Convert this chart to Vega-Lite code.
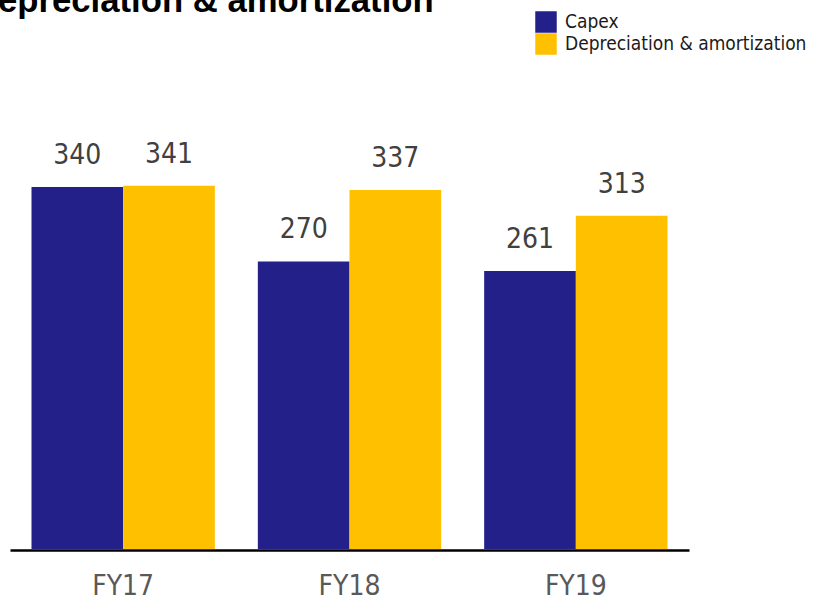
{
  "$schema": "https://vega.github.io/schema/vega-lite/v6.json",
  "width": 679,
  "height": 426,
  "autosize": {"type": "none"},
  "padding": {"left": 10, "top": 123, "right": 130, "bottom": 49},
  "background": "white",
  "title": {
    "text": "Depreciation & amortization",
    "anchor": "start",
    "orient": "top",
    "frame": "group",
    "font": "Liberation Sans",
    "fontSize": 34.7,
    "fontWeight": "bold",
    "color": "#000000",
    "baseline": "alphabetic",
    "offset": 0,
    "dx": -37,
    "dy": 36
  },
  "data": {
    "values": [
      {"year": "FY17", "series": "Capex", "value": 340},
      {"year": "FY17", "series": "Depreciation & amortization", "value": 341},
      {"year": "FY18", "series": "Capex", "value": 270},
      {"year": "FY18", "series": "Depreciation & amortization", "value": 337},
      {"year": "FY19", "series": "Capex", "value": 261},
      {"year": "FY19", "series": "Depreciation & amortization", "value": 313}
    ]
  },
  "encoding": {
    "x": {
      "field": "year",
      "type": "nominal",
      "sort": ["FY17", "FY18", "FY19"],
      "scale": {"paddingInner": 0.19, "paddingOuter": 0.095},
      "axis": {
        "title": null,
        "labelAngle": 0,
        "ticks": false,
        "domainColor": "#000000",
        "domainWidth": 2.5,
        "offset": 1,
        "labelFont": "DejaVu Sans Condensed, Liberation Sans",
        "labelFontSize": 28,
        "labelColor": "#595959",
        "labelPadding": 22,
        "zindex": 1
      }
    },
    "xOffset": {
      "field": "series",
      "type": "nominal",
      "scale": {"paddingInner": 0, "paddingOuter": 0}
    },
    "y": {
      "field": "value",
      "type": "quantitative",
      "scale": {"domain": [0, 400], "nice": false},
      "axis": null
    }
  },
  "layer": [
    {
      "mark": {"type": "bar"},
      "encoding": {
        "color": {
          "field": "series",
          "type": "nominal",
          "scale": {"domain": ["Capex", "Depreciation & amortization"], "range": ["#23208a", "#ffc000"]},
          "legend": {
            "title": null,
            "orient": "none",
            "legendX": 525,
            "legendY": -112,
            "symbolType": "square",
            "symbolSize": 462,
            "symbolStrokeWidth": 0,
            "symbolOpacity": 1,
            "rowPadding": 0,
            "padding": 0,
            "labelOffset": 8,
            "labelFont": "DejaVu Sans Condensed, Liberation Sans",
            "labelFontSize": 19,
            "labelColor": "#1a1a1a",
            "labelLimit": 400
          }
        }
      }
    },
    {
      "mark": {
        "type": "text",
        "baseline": "alphabetic",
        "dy": -23,
        "font": "DejaVu Sans Condensed, Liberation Sans",
        "fontSize": 28,
        "color": "#404040"
      },
      "encoding": {
        "text": {"field": "value", "type": "quantitative"}
      }
    }
  ],
  "config": {
    "view": {"stroke": null}
  }
}
